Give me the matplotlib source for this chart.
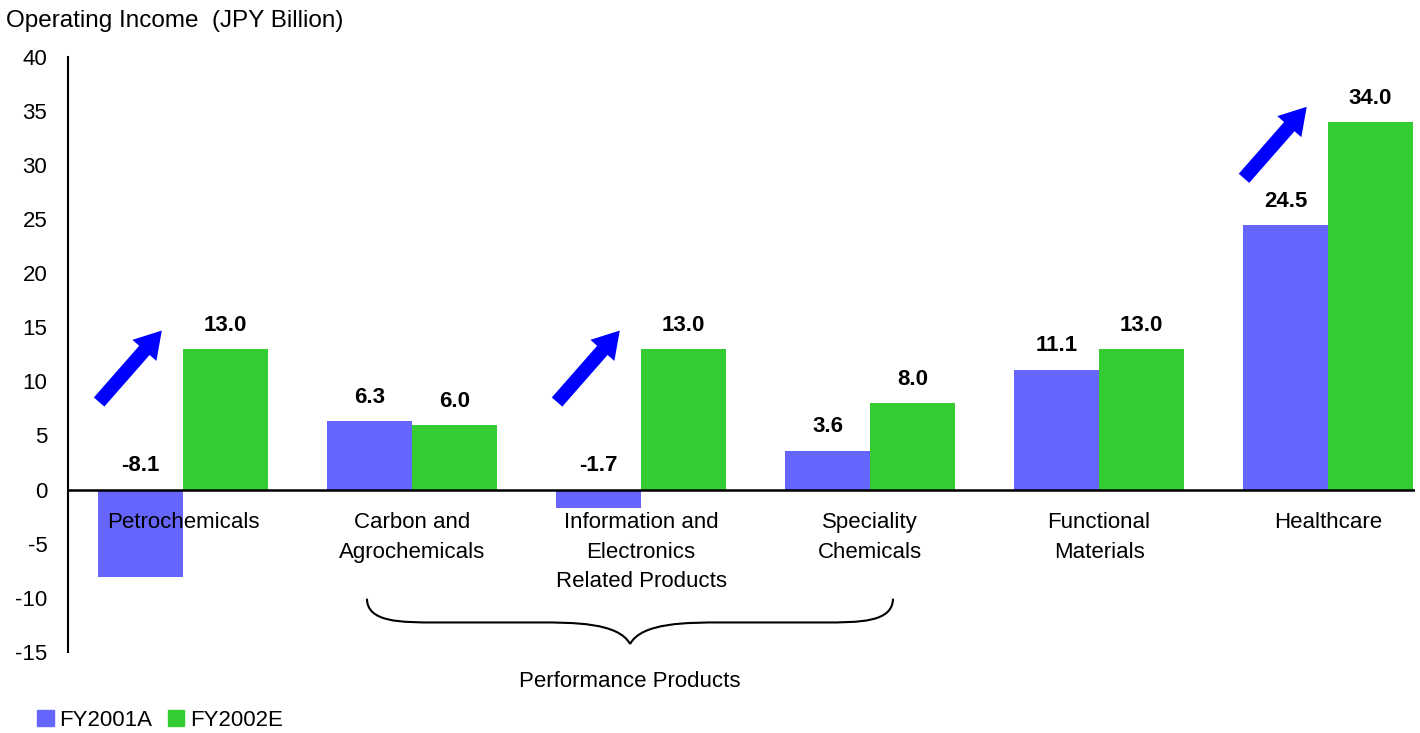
import matplotlib
matplotlib.use("Agg")
import matplotlib.pyplot as plt
from matplotlib.patches import Patch
from matplotlib.path import Path
from matplotlib.patches import PathPatch
import numpy as np

plt.rcParams["font.family"] = ["Liberation Sans", "DejaVu Sans"]
plt.rcParams["axes.unicode_minus"] = False

categories = ["Petrochemicals", "Carbon and\nAgrochemicals",
              "Information and\nElectronics\nRelated Products",
              "Speciality\nChemicals", "Functional\nMaterials", "Healthcare"]
fy2001 = [-8.1, 6.3, -1.7, 3.6, 11.1, 24.5]
fy2002 = [13.0, 6.0, 13.0, 8.0, 13.0, 34.0]
series_names = ["FY2001A", "FY2002E"]
yticks = list(range(-15, 45, 5))

blue = "#6666FF"
green = "#33CC33"
fs = 16

fig = plt.figure(figsize=(14.2, 7.33), dpi=100)
ax = fig.add_axes([0.048, 0.111, 0.9485, 0.811])

x = np.arange(len(categories))
w = 0.37
ax.bar(x - w / 2, fy2001, w, color=blue)
ax.bar(x + w / 2, fy2002, w, color=green)

ax.set_xlim(-0.502, 5.38)
ax.set_ylim(-15, 40)
ax.set_yticks(yticks)
ax.set_xticks([])
ax.tick_params(axis="y", length=0, pad=15, labelsize=fs)
for s in ["top", "right", "bottom"]:
    ax.spines[s].set_visible(False)
ax.spines["left"].set_linewidth(1.5)
ax.axhline(0, color="black", lw=1.8)

# value labels
for xi, v1, v2 in zip(x, fy2001, fy2002):
    for xx, v in ((xi - w / 2, v1), (xi + w / 2, v2)):
        ax.annotate("%.1f" % v, (xx, max(v, 0)), xytext=(0, 17), textcoords="offset points",
                    ha="center", va="center", fontsize=fs, fontweight="bold")

# category names under the zero line
for xi, name in zip(x, categories):
    ax.annotate(name, (xi, 0), xytext=(0, -16.5), textcoords="offset points",
                ha="center", va="top", fontsize=fs, linespacing=1.53)

# improvement arrows
for xi, base in ((0, 7.9), (2, 7.9), (5, 28.6)):
    ax.annotate("", xy=(xi - 0.085, base + 7.0), xytext=(xi - 0.375, base),
                arrowprops=dict(arrowstyle="simple,head_width=2.3,head_length=1.9,tail_width=1.0",
                                mutation_scale=10, color="#0000FF", lw=0))

# brace under the performance products group
xl, xr, xc = 0.803, 3.10, 1.952
yt, ym, yb = -10.1, -12.3, -14.3
verts = [(xl, yt), (xl, ym), (xl + 0.15, ym), (xl + 0.3, ym),
         (xc - 0.4, ym), (xc - 0.4, ym), (xc - 0.25, ym),
         (xc - 0.05, ym), (xc, yb), (xc, yb),
         (xc, yb), (xc + 0.05, ym), (xc + 0.25, ym),
         (xc + 0.4, ym), (xr - 0.3, ym), (xr - 0.3, ym),
         (xr - 0.15, ym), (xr, ym), (xr, yt)]
codes = [Path.MOVETO] + [Path.CURVE4] * 3 + [Path.LINETO] + [Path.LINETO] + [Path.CURVE4] * 3 \
    + [Path.LINETO] + [Path.MOVETO] + [Path.CURVE4] * 3 + [Path.LINETO] + [Path.LINETO] + [Path.CURVE4] * 3
ax.add_patch(PathPatch(Path(verts, codes), fill=False, lw=1.5, color="black", clip_on=False))
ax.text(xc, -17.8, "Performance Products", ha="center", va="center", fontsize=fs, clip_on=False)

fig.text(0.004, 0.972, "Operating Income  (JPY Billion)", ha="left", va="center", fontsize=17.5)

fig.legend(handles=[Patch(color=blue), Patch(color=green)], labels=series_names,
           loc="lower left", bbox_to_anchor=(0.012, -0.024), ncol=2, frameon=False,
           fontsize=fs, handlelength=0.75, handleheight=0.75, handletextpad=0.25, columnspacing=0.7)

fig.savefig("out.png", dpi=100)
